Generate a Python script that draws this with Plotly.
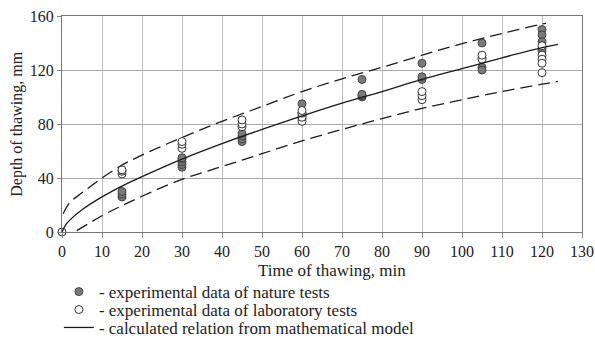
import plotly.graph_objects as go

# Measured data: time of thawing (min) and depth of thawing (mm)
nature_t = [15, 15, 15, 30, 30, 30, 30, 30, 45, 45, 45, 45, 60, 60, 60, 60,
            75, 75, 75, 75, 90, 90, 90, 105, 105, 105, 105, 120, 120, 120, 120, 120]
nature_v = [26, 28, 30, 48, 50, 52, 54, 55, 67, 69, 71, 73, 95, 84, 86, 88,
            113, 100, 101, 102, 125, 113, 115, 140, 129, 122, 120, 150, 146, 141, 136, 134]

lab_t = [0, 15, 15, 15, 30, 30, 30, 45, 45, 45, 60, 60, 60, 60,
         90, 90, 90, 105, 105, 120, 120, 120, 120, 120]
lab_v = [0, 43, 45, 46, 62, 65, 67, 78, 80, 83, 82, 85, 88, 90,
         98, 101, 104, 128, 131, 131, 128, 125, 118, 138]

# Calculated relation
model_t = [0, 1, 2, 5, 10, 15, 20, 30, 40, 50, 60, 70, 80, 90, 100, 110, 120, 124]
model_v = [0, 5.6, 9, 16.5, 26, 34, 41, 54, 65.5, 76, 86, 95.5, 104, 113, 121, 129, 136.5, 139]

upper_t = [0.3, 2, 5, 10, 15, 20, 30, 40, 50, 60, 70, 80, 90, 100, 110, 120, 121]
upper_v = [13.5, 22, 29, 40, 49.5, 57, 70, 82, 93, 104, 113.5, 122, 131, 139.5, 147, 154, 154.5]

lower_t = [3.7, 10, 15, 20, 30, 40, 50, 60, 70, 80, 90, 100, 110, 120, 124]
lower_v = [1, 12, 19.5, 26.5, 39, 48.5, 58, 67.5, 76, 84, 91.5, 98, 104, 109.5, 111.5]

x_ticks = [0, 10, 20, 30, 40, 50, 60, 70, 80, 90, 100, 110, 120, 130]
y_ticks = [0, 40, 80, 120, 160]

FONT = "Liberation Serif, Times New Roman, serif"
TXT = "#222222"

fig = go.Figure()

fig.add_trace(go.Scatter(
    x=upper_t, y=upper_v, mode="lines", line=dict(color="#1a1a1a", width=1.3, dash="12px,6px"),
    line_shape="spline", showlegend=False, hoverinfo="skip"))
fig.add_trace(go.Scatter(
    x=lower_t, y=lower_v, mode="lines", line=dict(color="#1a1a1a", width=1.3, dash="12px,6px"),
    line_shape="spline", showlegend=False, hoverinfo="skip"))

fig.add_trace(go.Scatter(
    x=nature_t, y=nature_v, mode="markers", name="- experimental data of nature tests",
    marker=dict(size=8, color="#7a7a7a", line=dict(color="#444444", width=1)),
    cliponaxis=False, legend="legend"))
fig.add_trace(go.Scatter(
    x=lab_t, y=lab_v, mode="markers", name="- experimental data of laboratory tests",
    marker=dict(size=8, color="white", line=dict(color="#333333", width=1)),
    cliponaxis=False, legend="legend2"))
fig.add_trace(go.Scatter(
    x=model_t, y=model_v, mode="lines", name="- calculated relation from mathematical model",
    line=dict(color="#1a1a1a", width=1.3), line_shape="spline", legend="legend3"))

fig.update_xaxes(
    range=[0, 130], tickvals=x_ticks, ticks="outside", ticklen=5, tickcolor="#888888",
    showgrid=True, gridcolor="#bdbdbd", gridwidth=1, zeroline=False,
    showline=True, linecolor="#777777", linewidth=1, mirror=True,
    tickfont=dict(family=FONT, size=16, color=TXT))
fig.update_yaxes(
    range=[0, 160], tickvals=y_ticks, ticks="outside", ticklen=4, tickcolor="#888888",
    showgrid=True, gridcolor="#a8a8a8", gridwidth=1, zeroline=False,
    showline=True, linecolor="#777777", linewidth=1, mirror=True,
    tickfont=dict(family=FONT, size=16, color=TXT))

leg_common = dict(x=-0.006, xanchor="left", yanchor="middle",
                  bgcolor="rgba(0,0,0,0)", borderwidth=0,
                  font=dict(family=FONT, size=17, color=TXT), itemwidth=30)

fig.update_layout(
    width=595, height=341,
    margin=dict(l=62, r=13, t=16, b=109, autoexpand=False),
    plot_bgcolor="white", paper_bgcolor="white",
    font=dict(family=FONT, size=16, color=TXT),
    legend=dict(y=-0.278, **leg_common),
    legend2=dict(y=-0.361, **leg_common),
    legend3=dict(y=-0.444, **leg_common),
    annotations=[
        dict(text="Time of thawing, min", xref="paper", yref="paper",
             x=0.52, y=-0.18, xanchor="center", yanchor="middle", showarrow=False,
             font=dict(family=FONT, size=17, color=TXT)),
        dict(text="Depth of thawing, mm", xref="paper", yref="paper",
             x=-0.087, y=0.5, xanchor="center", yanchor="middle", showarrow=False,
             textangle=-90, font=dict(family=FONT, size=16, color=TXT)),
    ],
)

fig.write_html("out.html", config={"displayModeBar": False},
               post_script="document.body.style.margin='0';document.body.style.overflow='hidden';")
